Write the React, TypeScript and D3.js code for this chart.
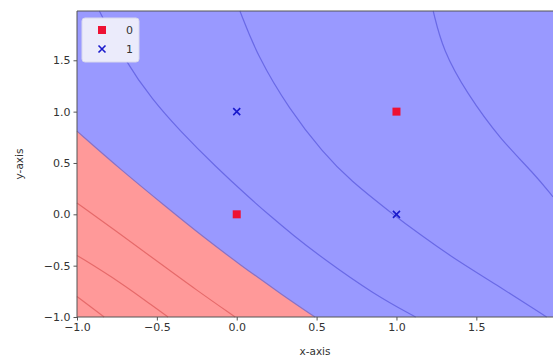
import { useEffect, useRef } from "react";
import * as d3 from "d3";

type Pt = [number, number];

// decision boundary between class 0 (red) and class 1 (blue)
const boundary: Pt[] = [
  [-1.0, 0.81], [-0.73, 0.44], [-0.44, 0.07], [-0.21, -0.22], [0.02, -0.49], [0.29, -0.79], [0.49, -1.0],
];

// contour lines inside the red region
const redLines: Pt[][] = [
  [[-1.0, 0.11], [-0.75, -0.17], [-0.5, -0.455], [-0.25, -0.74], [-0.01, -1.0]],
  [[-1.0, -0.4], [-0.73, -0.66], [-0.52, -0.9], [-0.43, -1.0]],
  [[-1.0, -0.8], [-0.83, -1.0]],
];

// contour lines inside the blue region
const blueLines: Pt[][] = [
  [[-0.86, 1.98], [-0.69, 1.47], [-0.53, 1.12], [-0.36, 0.82], [-0.13, 0.46], [0.08, 0.16], [0.19, 0.01], [0.35, -0.2], [0.54, -0.43], [0.86, -0.78], [1.12, -1.0]],
  [[0.02, 1.98], [0.13, 1.54], [0.33, 1.02], [0.54, 0.6], [0.71, 0.33], [0.97, 0.01], [1.15, -0.2], [1.34, -0.41], [1.65, -0.71], [1.94, -1.0]],
  [[1.23, 1.98], [1.29, 1.6], [1.44, 1.18], [1.65, 0.73], [1.86, 0.4], [1.98, 0.17]],
];

const class0: Pt[] = [[0, 0], [1, 1]];
const class1: Pt[] = [[0, 1], [1, 0]];

const xTicks = [-1.0, -0.5, 0.0, 0.5, 1.0, 1.5];
const yTicks = [-1.0, -0.5, 0.0, 0.5, 1.0, 1.5];

const W = 553;
const H = 358;
const m = { left: 77, right: 0, top: 11, bottom: 41 };
const FONT = "DejaVu Sans, sans-serif";
const TXT = "#333";

export default function App() {
  const ref = useRef<SVGSVGElement>(null);

  useEffect(() => {
    if (!ref.current) return;
    const svg = d3.select(ref.current);
    svg.selectAll("*").remove();

    const x = d3.scaleLinear().domain([-1, 1.98]).range([m.left, W - m.right]);
    const y = d3.scaleLinear().domain([-1, 1.98]).range([H - m.bottom, m.top]);

    const line = d3
      .line<Pt>()
      .x((d) => x(d[0]))
      .y((d) => y(d[1]))
      .curve(d3.curveBasis);

    // blue background region
    svg
      .append("rect")
      .attr("x", x(-1))
      .attr("y", y(1.98))
      .attr("width", x(1.98) - x(-1))
      .attr("height", y(-1) - y(1.98))
      .attr("fill", "#9999ff");

    // red region: boundary closed through the lower-left corner
    const area = d3
      .area<Pt>()
      .x((d) => x(d[0]))
      .y0(y(-1))
      .y1((d) => y(d[1]))
      .curve(d3.curveBasis);
    svg.append("path").datum(boundary).attr("d", area).attr("fill", "#ff9999");
    svg
      .append("path")
      .datum(boundary)
      .attr("d", line)
      .attr("fill", "none")
      .attr("stroke", "#8a72c4")
      .attr("stroke-width", 1.2);

    redLines.forEach((l) => {
      svg
        .append("path")
        .datum(l)
        .attr("d", line)
        .attr("fill", "none")
        .attr("stroke", "#e66a6a")
        .attr("stroke-width", 1.2);
    });
    blueLines.forEach((l) => {
      svg
        .append("path")
        .datum(l)
        .attr("d", line)
        .attr("fill", "none")
        .attr("stroke", "#6a6ae6")
        .attr("stroke-width", 1.2);
    });

    // samples
    const sq = 8;
    svg
      .selectAll("rect.c0")
      .data(class0)
      .join("rect")
      .attr("class", "c0")
      .attr("x", (d) => x(d[0]) - sq / 2)
      .attr("y", (d) => y(d[1]) - sq / 2)
      .attr("width", sq)
      .attr("height", sq)
      .attr("fill", "#ee1133");
    const xs = 3.5;
    const cross = (cx: number, cy: number) =>
      `M${cx - xs},${cy - xs}L${cx + xs},${cy + xs}M${cx - xs},${cy + xs}L${cx + xs},${cy - xs}`;
    svg
      .selectAll("path.c1")
      .data(class1)
      .join("path")
      .attr("class", "c1")
      .attr("d", (d) => cross(x(d[0]), y(d[1])))
      .attr("stroke", "#1a1acc")
      .attr("stroke-width", 1.6)
      .attr("fill", "none");

    // spines
    const spine = "#555";
    svg.append("line").attr("x1", x(-1)).attr("x2", x(1.98)).attr("y1", y(-1)).attr("y2", y(-1)).attr("stroke", spine);
    svg.append("line").attr("x1", x(-1)).attr("x2", x(1.98)).attr("y1", y(1.98)).attr("y2", y(1.98)).attr("stroke", spine);
    svg.append("line").attr("x1", x(-1)).attr("x2", x(-1)).attr("y1", y(-1)).attr("y2", y(1.98)).attr("stroke", spine);

    const fmt = (v: number) => d3.format(".1f")(v).replace("-", "\u2212");

    const xAxis = svg
      .append("g")
      .attr("transform", `translate(0,${y(-1)})`)
      .call(d3.axisBottom(x).tickValues(xTicks).tickFormat((d) => fmt(+d)).tickSize(3.5).tickPadding(3));
    xAxis.select(".domain").remove();
    xAxis.selectAll("line").attr("stroke", spine);
    xAxis.selectAll("text").attr("font-family", FONT).attr("font-size", 11).attr("fill", TXT);

    const yAxis = svg
      .append("g")
      .attr("transform", `translate(${x(-1)},0)`)
      .call(d3.axisLeft(y).tickValues(yTicks).tickFormat((d) => fmt(+d)).tickSize(3.5).tickPadding(3));
    yAxis.select(".domain").remove();
    yAxis.selectAll("line").attr("stroke", spine);
    yAxis.selectAll("text").attr("font-family", FONT).attr("font-size", 11).attr("fill", TXT);

    svg
      .append("text")
      .attr("x", (x(-1) + x(1.98)) / 2)
      .attr("y", 355)
      .attr("text-anchor", "middle")
      .attr("font-family", FONT)
      .attr("font-size", 10.5)
      .attr("fill", TXT)
      .text("x-axis");
    svg
      .append("text")
      .attr("transform", `translate(23,${(y(-1) + y(1.98)) / 2}) rotate(-90)`)
      .attr("text-anchor", "middle")
      .attr("font-family", FONT)
      .attr("font-size", 10.5)
      .attr("fill", TXT)
      .text("y-axis");

    // legend
    const lg = svg.append("g").attr("transform", "translate(82,18)");
    lg.append("rect")
      .attr("width", 57)
      .attr("height", 44)
      .attr("rx", 3)
      .attr("fill", "#ebebfb")
      .attr("stroke", "#d8d8ec");
    lg.append("rect").attr("x", 16).attr("y", 8).attr("width", sq).attr("height", sq).attr("fill", "#ee1133");
    lg.append("path").attr("d", cross(20, 31)).attr("stroke", "#1a1acc").attr("stroke-width", 1.6);
    ["0", "1"].forEach((t, i) => {
      lg.append("text")
        .attr("x", 44)
        .attr("y", 12 + i * 19)
        .attr("dy", "0.35em")
        .attr("font-family", FONT)
        .attr("font-size", 11)
        .attr("fill", TXT)
        .text(t);
    });
  }, []);

  return (
    <svg
      ref={ref}
      width={W}
      height={H}
      style={{ position: "absolute", left: 0, top: 0, background: "white" }}
    />
  );
}
